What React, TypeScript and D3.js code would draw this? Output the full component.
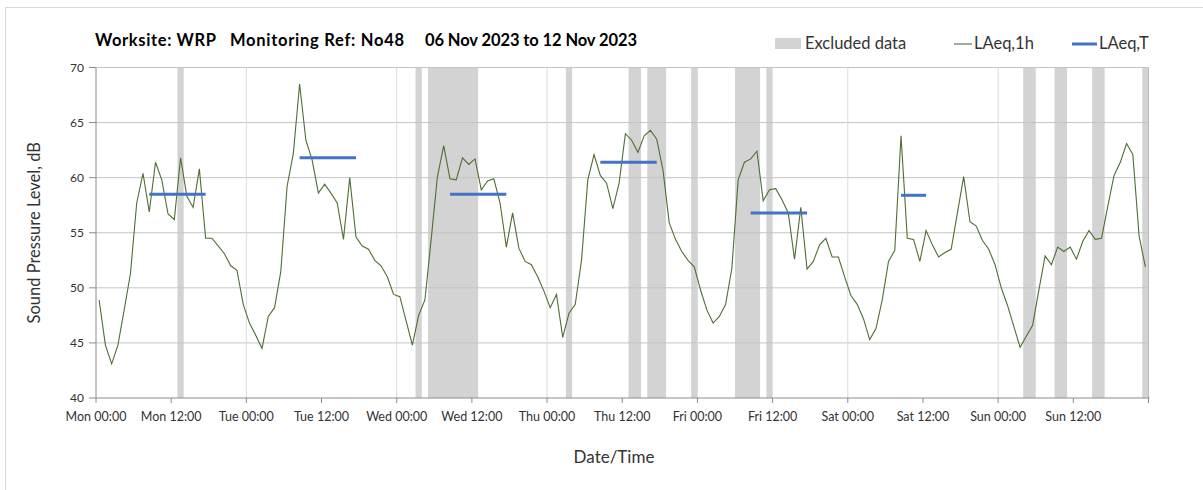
import React from "react";
import * as d3 from "d3";

// hourly LAeq,1h values, Mon 06 Nov 2023 00:00 onwards (one per hour)
const laeq1h: number[] = [
  48.9, 44.8, 43.1, 44.8, 48.0, 51.3, 57.7, 60.4, 56.9, 61.4, 59.8, 56.7, 56.2, 61.8, 58.3, 57.3, 60.8, 54.5, 54.5, 53.8, 53.1, 52.0, 51.6, 48.5,
  46.8, 45.7, 44.5, 47.4, 48.2, 51.5, 59.2, 62.2, 68.5, 63.4, 61.6, 58.6, 59.4, 58.6, 57.7, 54.4, 60.0, 54.6, 53.8, 53.5, 52.5, 52.0, 51.0, 49.4,
  49.2, 47.0, 44.8, 47.5, 48.9, 54.4, 60.1, 62.9, 59.9, 59.8, 61.8, 61.2, 61.7, 58.9, 59.7, 59.9, 57.7, 53.7, 56.8, 53.6, 52.4, 52.1, 51.0, 49.7,
  48.2, 49.4, 45.5, 47.7, 48.5, 52.5, 59.8, 62.1, 60.2, 59.5, 57.2, 59.5, 64.0, 63.4, 62.3, 63.8, 64.3, 63.5, 60.7, 55.9, 54.4, 53.3, 52.5, 51.9,
  49.8, 48.0, 46.8, 47.4, 48.5, 51.8, 59.8, 61.4, 61.7, 62.4, 57.9, 58.9, 59.0, 58.0, 56.8, 52.6, 57.3, 51.7, 52.4, 53.9, 54.5, 52.8, 52.8, 51.0,
  49.3, 48.5, 47.2, 45.3, 46.3, 48.9, 52.4, 53.4, 63.8, 54.5, 54.4, 52.4, 55.2, 53.9, 52.8, 53.2, 53.5, 56.8, 60.1, 56.0, 55.6, 54.3, 53.5, 52.1,
  50.0, 48.4, 46.5, 44.6, 45.6, 46.6, 49.8, 52.9, 52.1, 53.7, 53.3, 53.7, 52.6, 54.2, 55.2, 54.4, 54.5, 57.4, 60.2, 61.4, 63.1, 62.1, 54.7, 51.9,
];

// excluded data periods (hours from Mon 00:00)
const excludedStart: number[] = [13, 51, 53, 75, 85, 88, 95, 102, 107, 148, 153, 159, 167];
const excludedEnd: number[] = [14, 52, 61, 76, 87, 91, 96, 106, 108, 150, 155, 161, 168];

// LAeq,T periods (first and last hourly index) and values
const periodFirstHour: number[] = [8, 32, 56, 80, 104, 128];
const periodLastHour: number[] = [17, 41, 65, 89, 113, 132];
const periodValue: number[] = [58.5, 61.8, 58.5, 61.4, 56.8, 58.4];

const xTickLabels: string[] = [
  "Mon 00:00", "Mon 12:00", "Tue 00:00", "Tue 12:00", "Wed 00:00", "Wed 12:00", "Thu 00:00",
  "Thu 12:00", "Fri 00:00", "Fri 12:00", "Sat 00:00", "Sat 12:00", "Sun 00:00", "Sun 12:00",
];
const yTicks: number[] = [40, 45, 50, 55, 60, 65, 70];

const W = 1203;
const H = 490;
const FONT = "Lato, 'Open Sans', sans-serif";

export default function App() {
  const x = d3.scaleLinear().domain([0, 168]).range([96, 1148.5]);
  const y = d3.scaleLinear().domain([40, 70]).range([398, 67.5]);

  const line = d3
    .line<number>()
    .x((_, i) => x(i + 0.5))
    .y((d) => y(d));

  const dayLines = d3.range(24, 169, 24);
  const tickHours = d3.range(0, 169, 12);

  return (
    <svg
      width={W}
      height={H}
      style={{ position: "absolute", left: 0, top: 0, background: "#fff" }}
      fontFamily={FONT}
    >
      <rect x={5.5} y={7.5} width={W + 10} height={H + 10} fill="#fff" stroke="#d9d9d9" />

      {/* excluded bands */}
      {excludedStart.map((s, i) => (
        <rect
          key={"ex" + i}
          x={x(s)}
          y={y(70)}
          width={x(excludedEnd[i]) - x(s)}
          height={y(40) - y(70)}
          fill="#d3d3d3"
        />
      ))}

      {/* horizontal gridlines */}
      {yTicks.filter((t) => t > 40).map((t) => (
        <line key={"hg" + t} x1={x(0)} x2={x(168)} y1={y(t)} y2={y(t)} stroke="#c4c4c4" strokeWidth={1} />
      ))}
      {/* vertical gridlines */}
      {dayLines.map((h) => (
        <line key={"vg" + h} x1={x(h)} x2={x(h)} y1={y(70)} y2={y(40)} stroke={h === 168 ? "#b8b8b8" : "#dadada"} strokeWidth={1} />
      ))}

      {/* axes */}
      <line x1={x(0)} x2={x(0)} y1={y(70)} y2={y(40)} stroke="#8c8c8c" />
      <line x1={x(0)} x2={x(168) + 1} y1={y(40)} y2={y(40)} stroke="#8c8c8c" />
      {yTicks.map((t) => (
        <g key={"yt" + t}>
          <line x1={x(0) - 7} x2={x(0)} y1={y(t)} y2={y(t)} stroke="#8c8c8c" />
          <text x={x(0) - 12} y={y(t)} dy="0.35em" textAnchor="end" fontSize={12} fill="#333">
            {t}
          </text>
        </g>
      ))}
      {tickHours.map((h) => (
        <line key={"xt" + h} x1={x(h)} x2={x(h)} y1={y(40)} y2={y(40) + 5} stroke="#8c8c8c" />
      ))}
      {xTickLabels.map((lab, i) => (
        <text key={"xl" + i} x={x(i * 12)} y={421} textAnchor="middle" fontSize={12.5} fill="#333">
          {lab}
        </text>
      ))}

      {/* LAeq,1h line */}
      <path d={line(laeq1h) || ""} fill="none" stroke="#4e6e32" strokeWidth={1.1} />

      {/* LAeq,T */}
      {periodValue.map((v, i) => (
        <line
          key={"lt" + i}
          x1={x(periodFirstHour[i] + 0.5)}
          x2={x(periodLastHour[i] + 0.5)}
          y1={y(v)}
          y2={y(v)}
          stroke="#4472c4"
          strokeWidth={3}
        />
      ))}

      {/* title */}
      <g fontWeight="bold" fontSize={16.5} fill="#000">
        <text x={95} y={46} textLength={121}>Worksite: WRP</text>
        <text x={230} y={46} textLength={174}>Monitoring Ref: No48</text>
        <text x={425} y={46} textLength={212}>06 Nov 2023 to 12 Nov 2023</text>
      </g>

      {/* legend */}
      <rect x={775} y={38} width={26} height={11} fill="#d3d3d3" />
      <text x={805} y={49} fontSize={16.5} fill="#333">Excluded data</text>
      <line x1={954} x2={972} y1={44} y2={44} stroke="#4e6e32" strokeWidth={1.1} />
      <text x={974} y={49} fontSize={16.5} fill="#333">LAeq,1h</text>
      <line x1={1072} x2={1097} y1={44} y2={44} stroke="#4472c4" strokeWidth={3} />
      <text x={1099} y={49} fontSize={16.5} fill="#333">LAeq,T</text>

      {/* axis titles */}
      <text
        transform={`translate(40, ${(y(40) + y(70)) / 2}) rotate(-90)`}
        textAnchor="middle"
        fontSize={16.5}
        fill="#333"
      >
        Sound Pressure Level, dB
      </text>
      <text x={614} y={463} textAnchor="middle" fontSize={17} fill="#333">
        Date/Time
      </text>
    </svg>
  );
}
